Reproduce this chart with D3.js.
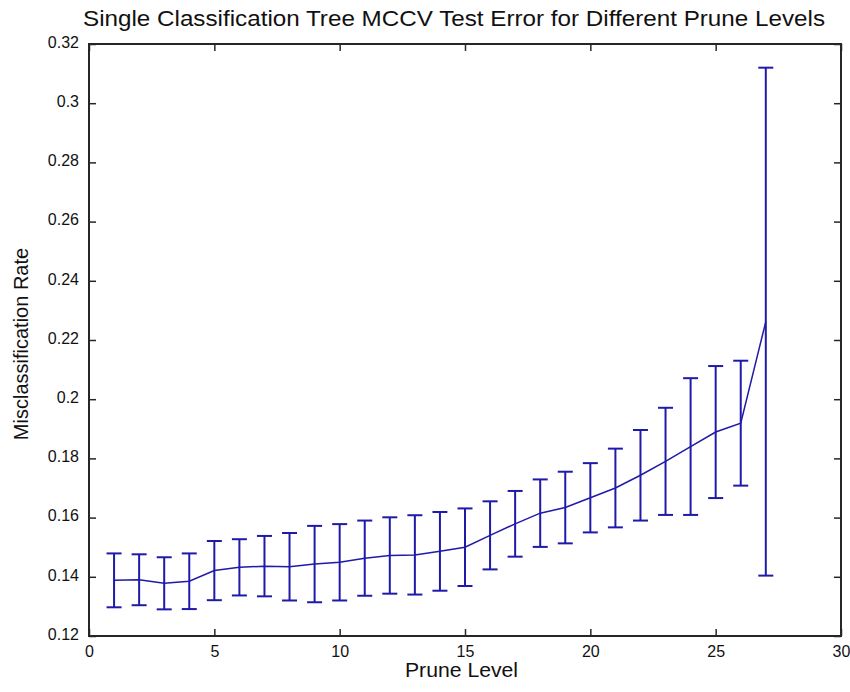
<!DOCTYPE html>
<html>
<head>
<meta charset="utf-8">
<script src="https://cdn.jsdelivr.net/npm/d3@7"></script>
<style>
  html, body { margin: 0; padding: 0; background: #fff; }
  text { font-family: "Liberation Sans", Arial, Helvetica, sans-serif; fill: #111; }
</style>
</head>
<body>
<svg id="chart" width="850" height="692"></svg>
<script>
// ---- Data ----
const pruneLevels = [1,2,3,4,5,6,7,8,9,10,11,12,13,14,15,16,17,18,19,20,21,22,23,24,25,26,27];
const meanError = [0.1388,0.1390,0.1378,0.1385,0.1421,0.1432,0.1436,0.1434,0.1443,0.1449,
                   0.1463,0.1472,0.1474,0.1486,0.1500,0.1540,0.1579,0.1615,0.1634,0.1667,
                   0.1700,0.1743,0.1790,0.1840,0.1889,0.1919,0.2262];
const errHalf = [0.0091,0.0086,0.0088,0.0094,0.0100,0.0095,0.0102,0.0114,0.0129,0.0129,
                 0.0127,0.0129,0.0134,0.0133,0.0131,0.0115,0.0111,0.0114,0.0121,0.0117,
                 0.0133,0.0153,0.0181,0.0231,0.0223,0.0211,0.0858];
const xTicks = [0,5,10,15,20,25,30];
const yTicks = [0.12,0.14,0.16,0.18,0.2,0.22,0.24,0.26,0.28,0.3,0.32];
const titleText = "Single Classification Tree MCCV Test Error for Different Prune Levels";
const xLabel = "Prune Level";
const yLabel = "Misclassification Rate";

// ---- Layout ----
const plotL = 89, plotR = 841, plotT = 44, plotB = 636;
const lineColor = "#1f1aa8";
const svg = d3.select("#chart");

const x = d3.scaleLinear().domain([0, 30]).range([plotL, plotR]);
const y = d3.scaleLinear().domain([0.12, 0.32]).range([plotB, plotT]);

const data = pruneLevels.map((p, i) => ({ p, m: meanError[i], e: errHalf[i] }));

const tickLen = 7;
const axisColor = "#262626";
const fontFam = '"Liberation Sans", Arial, sans-serif';

function styleAxis(g) {
  g.select(".domain").remove();
  g.selectAll(".tick line").attr("stroke", axisColor).attr("stroke-width", 1.5);
}

// bottom
svg.append("g").attr("transform", `translate(0,${plotB})`)
  .call(d3.axisBottom(x).tickValues(xTicks).tickSizeInner(-tickLen).tickSizeOuter(0).tickPadding(10).tickFormat(d3.format("d")))
  .call(styleAxis)
  .call(g => g.selectAll(".tick text").attr("font-size", 16).attr("font-family", fontFam).attr("fill", "#111"));
// top
svg.append("g").attr("transform", `translate(0,${plotT})`)
  .call(d3.axisTop(x).tickValues(xTicks).tickSizeInner(-tickLen).tickSizeOuter(0).tickFormat(""))
  .call(styleAxis);
// left
svg.append("g").attr("transform", `translate(${plotL},0)`)
  .call(d3.axisLeft(y).tickValues(yTicks).tickSizeInner(-tickLen).tickSizeOuter(0).tickPadding(10).tickFormat(d => String(+d.toFixed(2))))
  .call(styleAxis)
  .call(g => g.selectAll(".tick text").attr("font-size", 16).attr("font-family", fontFam).attr("fill", "#111").attr("dy", "0.2em"));
// right
svg.append("g").attr("transform", `translate(${plotR},0)`)
  .call(d3.axisRight(y).tickValues(yTicks).tickSizeInner(-tickLen).tickSizeOuter(0).tickFormat(""))
  .call(styleAxis);

// Box
svg.append("rect")
  .attr("x", plotL).attr("y", plotT)
  .attr("width", plotR - plotL).attr("height", plotB - plotT)
  .attr("fill", "none").attr("stroke", axisColor).attr("stroke-width", 2);

// Error bars
const capHalf = 7.5;
const eb = svg.append("g").attr("stroke", lineColor).attr("stroke-width", 2).attr("fill", "none");
data.forEach(d => {
  eb.append("line").attr("x1", x(d.p)).attr("x2", x(d.p)).attr("y1", y(d.m - d.e)).attr("y2", y(d.m + d.e));
  eb.append("line").attr("x1", x(d.p) - capHalf).attr("x2", x(d.p) + capHalf).attr("y1", y(d.m + d.e)).attr("y2", y(d.m + d.e));
  eb.append("line").attr("x1", x(d.p) - capHalf).attr("x2", x(d.p) + capHalf).attr("y1", y(d.m - d.e)).attr("y2", y(d.m - d.e));
});

// Mean line
svg.append("path")
  .datum(data)
  .attr("fill", "none").attr("stroke", lineColor).attr("stroke-width", 1.5)
  .attr("d", d3.line().x(d => x(d.p)).y(d => y(d.m)));

// Title
svg.append("text")
  .attr("x", 83).attr("y", 26)
  .attr("font-size", 22)
  .attr("textLength", 742).attr("lengthAdjust", "spacingAndGlyphs")
  .text(titleText);

// X label
svg.append("text")
  .attr("x", 405).attr("y", 677)
  .attr("font-size", 20)
  .attr("textLength", 113).attr("lengthAdjust", "spacingAndGlyphs")
  .text(xLabel);

// Y label
svg.append("text")
  .attr("transform", `translate(28,${(plotT + plotB) / 2 + 4}) rotate(-90)`)
  .attr("text-anchor", "middle").attr("font-size", 20)
  .text(yLabel);
</script>
</body>
</html>
